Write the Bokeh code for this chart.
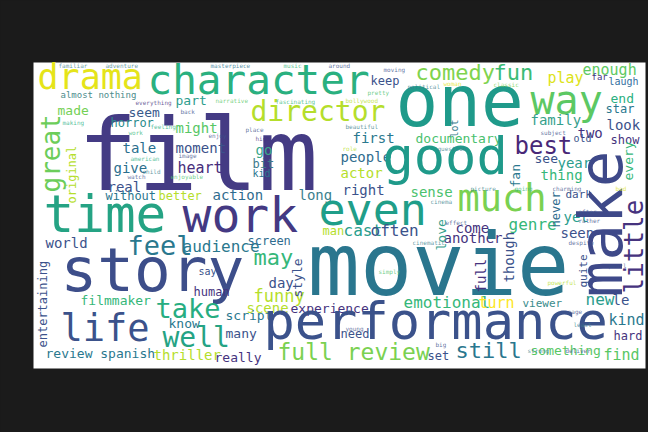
import math
from bokeh.plotting import figure
from bokeh.models import ColumnDataSource, Range1d
from bokeh.core.properties import value
from bokeh.embed import file_html
from bokeh.resources import INLINE

# horizontal words: word, left x, baseline y, font px, colour
h_words = ["drama","character","film","director","almost nothing","made","part","seem","horror","might",
  "tale","moment","go","give","heart","bit","kid","real","without","better","action","long","time","work",
  "comedy","fun","keep","play","enough","far","laugh","one","way","actor","end","star","family","first",
  "documentary","best","two","look","old","show","people","good","see","year","thing","right","sense","dark",
  "much","even","world","feel","audience","screen","story","may","say","day","human","filmmaker","funny",
  "take","scene","experience","know","script","life","well","many","review spanish","thriller","really",
  "full review","man","cast","often","come","another","genre","yet","seen","emotional","turn","viewer","new",
  "le","movie","performance","kind","hard","still","something","find","set","need"]
h_x = [37,147,77,250,60,57,175,128,110,175,122,175,255,113,177,252,252,107,105,158,212,298,43,182,
  415,493,370,547,582,591,608,395,530,340,610,605,530,352,415,514,577,606,573,610,340,382,534,557,540,342,410,565,
  457,318,45,127,182,247,60,253,198,268,193,80,253,155,246,290,168,225,60,162,225,45,153,214,
  277,322,343,370,455,443,508,563,560,403,478,522,585,612,307,263,608,613,455,530,603,427,340]
h_y = [90,95,193,122,98,115,105,117,127,133,153,153,155,173,173,168,177,192,200,200,200,200,233,233,
  80,80,85,83,75,80,85,128,115,178,103,113,125,143,143,155,138,130,142,144,162,175,163,168,180,195,197,198,
  212,226,248,255,252,245,292,265,275,288,296,305,302,318,313,313,328,320,342,348,338,358,360,362,
  360,235,236,236,233,243,230,222,238,308,308,307,305,305,298,340,325,340,358,355,360,360,338]
h_size = [35,41,100,28,9,13,13,13,12,14,14,14,14,14,15,12,10,14,12,12,14,14,51,48,
  22,22,12,15,15,9,10,71,40,14,13,12,14,14,13,24,14,14,10,12,14,52,13,14,14,14,14,11,
  37,45,14,27,16,12,61,22,10,14,12,13,17,27,14,13,13,13,37,28,13,13,14,13,
  23,12,16,16,14,14,16,14,14,16,15,11,16,14,87,52,15,12,22,13,15,12,12]
h_color = ["#e5e419","#2ab07f","#443b84","#b5de2b","#4c8c8c","#74d055","#2e9d8d","#3a5a8b","#2c8c8c","#58c765",
  "#2a6f8e","#3b528b","#3aa88a","#2d6f8e","#472d7b","#3c7a8c","#2a768e","#3b528b","#2a768e","#b5de2b","#2f6c8e","#3b7f8e","#25a384","#443983",
  "#7fd34e","#3bbb75","#3b528b","#dde318","#5ec962","#46337e","#35709f","#1f9a8a","#5cc863","#b5de2b","#2ab07f","#2a788e","#35a08b","#2a788e",
  "#4ac16d","#482878","#46337e","#3b528b","#3b528b","#46337e","#2f6c8e","#1f9a8a","#3b528b","#2a9d8d","#35b779","#3b528b","#4ac16d","#3b528b",
  "#7ad151","#1f9e89","#3b528b","#2a788e","#2a788e","#2f6c8e","#3d4e8a","#35b779","#3b528b","#3b528b","#46337e","#35b779","#b5de2b",
  "#27ad81","#b5de2b","#46337e","#2a788e","#2a788e","#3b528b","#25a384","#3b528b","#2a788e","#b5de2b","#46337e",
  "#7ad151","#b5de2b","#2a9d8d","#3b528b","#46337e","#46337e","#35b779","#2a9d8d","#3b528b","#35b779","#fde725","#3b8c8c","#2a9d8d",
  "#3b528b","#2a768e","#3b528b","#2a788e","#46337e","#2a768e","#58c765","#58c765","#3b528b","#3b528b"]

# vertical words: word, centre x, bottom y, font px, colour
v_words = ["make","little","great","original","entertaining","lot","fan","never","every","style","love","though","full","quite"]
v_x = [600,633,50,71,42,454,515,555,628,297,441,508,480,583]
v_y = [297,293,192,203,347,137,187,227,180,297,250,282,292,287]
v_size = [61,26,26,12,12,10,13,12,13,13,13,14,14,11]
v_color = ["#3e4989","#46337e","#6ccd5a","#b5de2b","#3b528b","#3b7f8e","#2a788e","#2f6c8e","#35b779","#3b528b","#35a08b","#3b528b","#46337e","#3b528b"]

# tiny words
t_words = ["familiar","adventure","masterpiece","music","everything","narrative","fascinating","back","making","feeling",
  "place","enjoy","high","work","image","american","child","watch","enjoyable","around","moving","political","woman",
  "classic","pretty","bollywood","beautiful","subject","role","question","picture","going","charming","bad","cinema",
  "simply","powerful","manage","young","big","strong","deliver","least","despite","pearl","cinematic","effect","rather","after"]
t_x = [58,105,210,283,135,215,275,180,62,150,245,208,255,128,178,130,142,127,170,328,383,407,443,493,367,345,345,540,342,437,
  470,514,552,615,430,378,547,560,345,435,527,565,573,568,608,412,445,578,578]
t_y = [67,67,67,67,104,102,103,113,124,128,131,137,140,134,157,160,173,178,178,67,71,88,85,86,94,102,128,134,150,150,
  190,190,190,190,203,273,284,313,330,346,352,352,326,244,267,244,224,222,213]
t_color = ["#3b7f8e","#3b7f8e","#2a768e","#35b779","#46337e","#58c765","#35b779","#3b528b","#2ab07f","#2ab07f",
  "#3b528b","#3b528b","#46337e","#35b779","#3b528b","#2ab07f","#3b7f8e","#3b528b","#4ac16d","#3b528b","#3b528b","#3b7f8e","#dde318",
  "#7ad151","#4ac16d","#b5de2b","#3b7f8e","#3b528b","#b5de2b","#3b7f8e","#3b7f8e","#35b779","#3b528b","#dde318","#3b7f8e",
  "#4ac16d","#b5de2b","#3b528b","#3b528b","#3b528b","#3b7f8e","#3b528b","#3b7f8e","#3b528b","#3b528b","#3b7f8e","#3b528b","#3b528b","#3b528b"]

W, H = 648, 432
p = figure(width=W, height=H, output_backend="svg", toolbar_location=None,
           x_range=Range1d(0, W), y_range=Range1d(H, 0), min_border=0)
p.axis.visible = False
p.grid.visible = False
p.outline_line_color = None
p.background_fill_color = "#1b1b1b"
p.border_fill_color = "#1b1b1b"
p.quad(left=[33], right=[645], top=[62], bottom=[368], fill_color="white", line_color=None)

font = value("DejaVu Sans Mono")
SHIFT = 0.38  # baseline correction for the svg renderer
hs = ColumnDataSource(dict(x=h_x, y=[y - SHIFT * s for y, s in zip(h_y, h_size)], t=h_words, c=h_color,
                           s=[f"{s}px" for s in h_size]))
p.text(x="x", y="y", text="t", text_color="c", text_font_size="s", text_font=font,
       text_align="left", text_baseline="alphabetic", source=hs)
vs = ColumnDataSource(dict(x=v_x, y=v_y, t=v_words, c=v_color, s=[f"{s}px" for s in v_size]))
p.text(x="x", y="y", text="t", text_color="c", text_font_size="s", text_font=font,
       text_align="left", text_baseline="middle", angle=math.pi/2, source=vs)
ts = ColumnDataSource(dict(x=t_x, y=[y - 2 for y in t_y], t=t_words, c=t_color))
p.text(x="x", y="y", text="t", text_color="c", text_font_size="6px", text_font=font,
       text_align="left", text_baseline="alphabetic", text_alpha=0.8, source=ts)

html = file_html(p, INLINE)
html = html.replace("<head>", "<head><style>html,body{margin:0;padding:0;background:#1b1b1b;overflow:hidden}</style>", 1)
open("out.html", "w").write(html)
